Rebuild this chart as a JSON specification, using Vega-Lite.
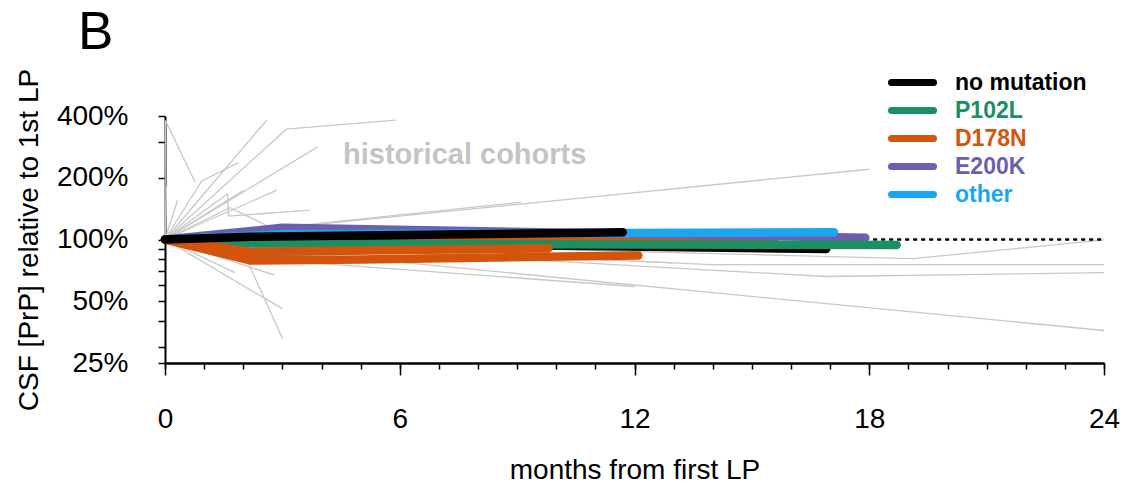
{
  "$schema": "https://vega.github.io/schema/vega-lite/v6.json",
  "width": 939,
  "height": 247,
  "autosize": {"type": "none"},
  "padding": {"left": 165, "top": 116, "right": 20, "bottom": 122},
  "background": "white",
  "config": {
    "view": {"stroke": null},
    "font": "Liberation Sans",
    "axis": {
      "grid": false,
      "domainColor": "black",
      "tickColor": "black",
      "labelColor": "black",
      "titleColor": "black",
      "domainWidth": 2,
      "tickWidth": 1.5,
      "labelFontSize": 28,
      "titleFontSize": 28,
      "titleFontWeight": "normal",
      "labelFont": "Liberation Sans",
      "titleFont": "Liberation Sans"
    }
  },
  "title": {
    "text": "B",
    "fontSize": 53,
    "fontWeight": "normal",
    "font": "Liberation Sans",
    "color": "black",
    "anchor": "start",
    "frame": "group",
    "dx": -87,
    "offset": 8
  },
  "datasets": {
    "hist": [
      {"id": "g01", "month": 0, "value": 1}, {"id": "g01", "month": 0.01, "value": 3.8}, {"id": "g01", "month": 0.77, "value": 1.9},
      {"id": "g02", "month": 0, "value": 1}, {"id": "g02", "month": 0.04, "value": 1.83},
      {"id": "g03", "month": 0, "value": 1}, {"id": "g03", "month": 0.32, "value": 1.55},
      {"id": "g04", "month": 0, "value": 1}, {"id": "g04", "month": 2.6, "value": 3.82},
      {"id": "g05", "month": 0, "value": 1}, {"id": "g05", "month": 3.1, "value": 3.45}, {"id": "g05", "month": 5.9, "value": 3.82},
      {"id": "g06", "month": 0, "value": 1}, {"id": "g06", "month": 3.9, "value": 2.83},
      {"id": "g07", "month": 0, "value": 1}, {"id": "g07", "month": 0.94, "value": 1.93}, {"id": "g07", "month": 1.88, "value": 2.37},
      {"id": "g08", "month": 0, "value": 1}, {"id": "g08", "month": 2.86, "value": 1.74},
      {"id": "g09", "month": 0, "value": 1}, {"id": "g09", "month": 1.6, "value": 1.67}, {"id": "g09", "month": 1.62, "value": 1.3}, {"id": "g09", "month": 3.7, "value": 1.39},
      {"id": "g10", "month": 0, "value": 1}, {"id": "g10", "month": 1.66, "value": 1.43}, {"id": "g10", "month": 2.6, "value": 1.17},
      {"id": "g11", "month": 0, "value": 1}, {"id": "g11", "month": 18, "value": 2.2},
      {"id": "g12", "month": 0, "value": 1}, {"id": "g12", "month": 9.1, "value": 1.52},
      {"id": "g13", "month": 0, "value": 1}, {"id": "g13", "month": 2.0, "value": 1.73},
      {"id": "g14", "month": 0, "value": 1}, {"id": "g14", "month": 1.79, "value": 0.69},
      {"id": "g15", "month": 0, "value": 1}, {"id": "g15", "month": 2.8, "value": 0.67},
      {"id": "g16", "month": 0, "value": 1}, {"id": "g16", "month": 3.0, "value": 0.46},
      {"id": "g17", "month": 0, "value": 1}, {"id": "g17", "month": 2.1, "value": 0.79}, {"id": "g17", "month": 3.0, "value": 0.33},
      {"id": "g18", "month": 0, "value": 1}, {"id": "g18", "month": 24, "value": 0.36},
      {"id": "g19", "month": 0, "value": 1}, {"id": "g19", "month": 2.5, "value": 0.8}, {"id": "g19", "month": 12, "value": 0.59},
      {"id": "g20", "month": 0, "value": 1}, {"id": "g20", "month": 13, "value": 0.77},
      {"id": "g21", "month": 0, "value": 1}, {"id": "g21", "month": 13.95, "value": 0.754}, {"id": "g21", "month": 24, "value": 0.754},
      {"id": "g22", "month": 0, "value": 1}, {"id": "g22", "month": 16.9, "value": 0.66}, {"id": "g22", "month": 24, "value": 0.69},
      {"id": "g23", "month": 0, "value": 1}, {"id": "g23", "month": 19.1, "value": 0.806}, {"id": "g23", "month": 24, "value": 0.995}
    ],
    "pts": [
      {"id": "a_D4", "group": "D178N", "month": 0, "value": 1}, {"id": "a_D4", "group": "D178N", "month": 2.5, "value": 1.0}, {"id": "a_D4", "group": "D178N", "month": 15.6, "value": 1.02},
      {"id": "b_D3", "group": "D178N", "month": 0, "value": 1}, {"id": "b_D3", "group": "D178N", "month": 2.5, "value": 0.97}, {"id": "b_D3", "group": "D178N", "month": 11.3, "value": 1.02},
      {"id": "c_E1", "group": "E200K", "month": 0, "value": 1}, {"id": "c_E1", "group": "E200K", "month": 3, "value": 1.14}, {"id": "c_E1", "group": "E200K", "month": 17.9, "value": 1.02},
      {"id": "d_O1", "group": "other", "month": 0, "value": 1}, {"id": "d_O1", "group": "other", "month": 3, "value": 1.06}, {"id": "d_O1", "group": "other", "month": 17.1, "value": 1.085},
      {"id": "e_O2", "group": "other", "month": 0, "value": 1}, {"id": "e_O2", "group": "other", "month": 2.3, "value": 0.86}, {"id": "e_O2", "group": "other", "month": 8, "value": 0.92},
      {"id": "f_N2", "group": "no mutation", "month": 0, "value": 1}, {"id": "f_N2", "group": "no mutation", "month": 2.5, "value": 0.97}, {"id": "f_N2", "group": "no mutation", "month": 16.9, "value": 0.9},
      {"id": "g_P1", "group": "P102L", "month": 0, "value": 1}, {"id": "g_P1", "group": "P102L", "month": 2.3, "value": 0.955}, {"id": "g_P1", "group": "P102L", "month": 18.7, "value": 0.94},
      {"id": "h_D2", "group": "D178N", "month": 0, "value": 1}, {"id": "h_D2", "group": "D178N", "month": 2.2, "value": 0.87}, {"id": "h_D2", "group": "D178N", "month": 9.8, "value": 0.905},
      {"id": "i_D1", "group": "D178N", "month": 0, "value": 1}, {"id": "i_D1", "group": "D178N", "month": 2.2, "value": 0.79}, {"id": "i_D1", "group": "D178N", "month": 5, "value": 0.8}, {"id": "i_D1", "group": "D178N", "month": 12.1, "value": 0.835},
      {"id": "j_N1", "group": "no mutation", "month": 0, "value": 1}, {"id": "j_N1", "group": "no mutation", "month": 2.2, "value": 1.03}, {"id": "j_N1", "group": "no mutation", "month": 11.7, "value": 1.085}
    ]
  },
  "resolve": {"axis": {"x": "independent"}},
  "layer": [
    {
      "data": {"name": "hist"},
      "mark": {"type": "line", "color": "#c8c8c8", "strokeWidth": 1.3},
      "encoding": {
        "x": {
          "field": "month", "type": "quantitative",
          "scale": {"domain": [0, 24], "nice": false, "zero": false},
          "axis": {
            "orient": "bottom",
            "values": [0,1,2,3,4,5,6,7,8,9,10,11,12,13,14,15,16,17,18,19,20,21,22,23,24],
            "labels": false, "tickSize": 6, "title": null
          }
        },
        "y": {
          "field": "value", "type": "quantitative",
          "scale": {"type": "log", "domain": [0.25, 4], "nice": false},
          "axis": {
            "values": [0.25, 0.3, 0.4, 0.5, 0.6, 0.7, 0.8, 0.9, 1, 2, 3, 4],
            "format": ".0%",
            "labelExpr": "(datum.value == 0.25 || datum.value == 0.5 || datum.value == 1 || datum.value == 2 || datum.value == 4) ? datum.label : ''",
            "labelOverlap": false,
            "labelBound": false,
            "tickSize": 7,
            "labelPadding": 30,
            "title": "CSF [PrP] relative to 1st LP",
            "titlePadding": 13
          }
        },
        "detail": {"field": "id"}
      }
    },
    {
      "data": {"values": [{"label": "historical cohorts", "month": 7.66, "value": 2.59}]},
      "mark": {"type": "text", "fontSize": 29, "fontWeight": "bold", "color": "#c4c4c4", "font": "Liberation Sans", "align": "center", "baseline": "middle"},
      "encoding": {
        "x": {"field": "month", "type": "quantitative", "axis": null},
        "y": {"field": "value", "type": "quantitative"},
        "text": {"field": "label"}
      }
    },
    {
      "data": {"values": [{"month": 18.1, "value": 1}, {"month": 24, "value": 1}]},
      "mark": {"type": "line", "color": "black", "strokeWidth": 2.5, "strokeDash": [4, 4]},
      "encoding": {
        "x": {"field": "month", "type": "quantitative", "axis": null},
        "y": {"field": "value", "type": "quantitative"}
      }
    },
    {
      "data": {"name": "pts"},
      "mark": {"type": "line", "strokeWidth": 8.5, "strokeCap": "round", "strokeJoin": "round"},
      "encoding": {
        "x": {
          "field": "month", "type": "quantitative",
          "axis": {
            "orient": "bottom",
            "values": [0, 6, 12, 18, 24],
            "tickSize": 12,
            "labelPadding": 30,
            "labelFlush": false,
            "title": "months from first LP",
            "titlePadding": 23
          }
        },
        "y": {"field": "value", "type": "quantitative"},
        "detail": {"field": "id"},
        "color": {
          "field": "group", "type": "nominal",
          "scale": {
            "domain": ["no mutation", "P102L", "D178N", "E200K", "other"],
            "range": ["#000000", "#1b8f62", "#d4540b", "#6c5fae", "#1aa7f0"]
          },
          "legend": {
            "orient": "none",
            "legendX": 734,
            "legendY": -47,
            "title": null,
            "symbolType": "M-2.1,0H2.1",
            "symbolStrokeWidth": 7,
            "symbolSize": 400,
            "labelFontSize": 23,
            "labelFontWeight": "bold",
            "labelFont": "Liberation Sans",
            "labelOffset": 29,
            "rowPadding": -1,
            "labelLimit": 300,
            "encode": {
              "labels": {"update": {"fill": {"scale": "color", "field": "value"}}},
              "symbols": {"update": {"strokeCap": {"value": "round"}}}
            }
          }
        }
      }
    }
  ]
}
